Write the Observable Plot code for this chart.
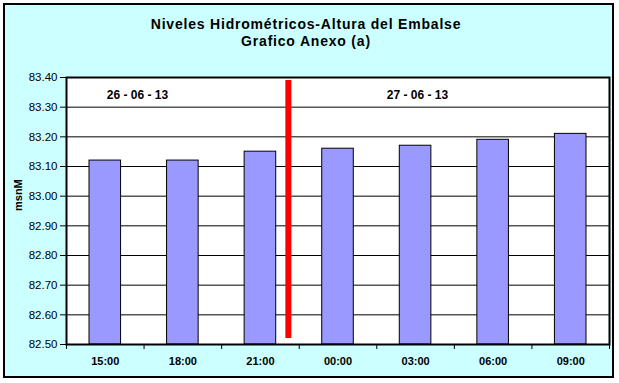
<!DOCTYPE html>
<html><head><meta charset="utf-8">
<script src="https://cdn.jsdelivr.net/npm/d3@7"></script>
<script src="https://cdn.jsdelivr.net/npm/@observablehq/plot@0.6"></script>
<style>
body{margin:0;background:#fff;}
#wrap{position:relative;width:619px;height:383px;overflow:hidden;font-family:"Liberation Sans",Arial,sans-serif;}
#box{position:absolute;left:3px;top:3px;width:607px;height:371px;border:2px solid #000;background:#ccffff;}
#title{position:absolute;left:0;top:16px;width:612px;text-align:center;font-weight:bold;font-size:14px;line-height:17px;color:#000;letter-spacing:0.8px;}
#chart{position:absolute;left:0;top:0;}
</style></head><body>
<div id="wrap"><div id="box"></div><div id="title">Niveles Hidrométricos-Altura del Embalse<br>Grafico Anexo (a)</div><div id="chart"></div></div>
<script>
// Data
const hours = ["15:00","18:00","21:00","00:00","03:00","06:00","09:00"];
const levels = [83.12, 83.12, 83.15, 83.16, 83.17, 83.19, 83.21];
const yTicks = [82.5, 82.6, 82.7, 82.8, 82.9, 83.0, 83.1, 83.2, 83.3, 83.4];
const dateLabels = ["26 - 06 - 13", "27 - 06 - 13"];
const datePositions = [0.415, 4.025];   // in category-index units
const dateLevel = 83.34;
const separatorPosition = [2.36];      // red day-change marker (index units)
const separatorRange = [82.52, 83.39];

const rows = levels.map((v, i) => ({i, v, hour: hours[i]}));
const boundaries = d3.range(-0.5, hours.length, 1);
const centers = d3.range(hours.length);
const font = '"Liberation Sans", Arial, sans-serif';

const chart = Plot.plot({
  width: 619,
  height: 383,
  marginLeft: 66,
  marginRight: 10,
  marginTop: 77,
  marginBottom: 39,
  style: {background: "transparent", fontFamily: font, color: "black", overflow: "visible"},
  x: {type: "linear", domain: [-0.5, hours.length - 0.5], axis: null},
  y: {domain: [82.5, 83.4], axis: null},
  marks: [
    Plot.frame({fill: "white", stroke: null}),
    Plot.ruleY(yTicks, {stroke: "black", strokeWidth: 1}),
    Plot.rectY(rows, {x1: d => d.i - 0.5, x2: d => d.i + 0.5, y1: 82.5, y2: "v", insetLeft: 23, insetRight: 23, fill: "#9999ff", stroke: "black", strokeWidth: 1}),
    Plot.ruleX(separatorPosition, {y1: separatorRange[0], y2: separatorRange[1], stroke: "#ff0000", strokeWidth: 6}),
    Plot.text(dateLabels, {x: (d, i) => datePositions[i], y: dateLevel, text: d => d, fontWeight: "bold", fontSize: 12, fill: "black"}),
    Plot.axisY(yTicks, {tickFormat: d => d.toFixed(2), tickSize: 6, tickPadding: 3, fontSize: 11.5, label: null}),
    Plot.axisX(boundaries, {tickSize: 5, tickFormat: () => "", label: null}),
    Plot.axisX(centers, {tickSize: 0, tickPadding: 13, tickFormat: i => hours[i], fontSize: 11, fontWeight: "bold", label: null}),
    Plot.text(["msnM"], {frameAnchor: "left", rotate: -90, dx: -48, text: d => d, fontWeight: "bold", fontSize: 11, fill: "black"}),
    Plot.frame({stroke: "black", strokeWidth: 2})
  ]
});
document.getElementById("chart").appendChild(chart);
</script>
</body></html>
